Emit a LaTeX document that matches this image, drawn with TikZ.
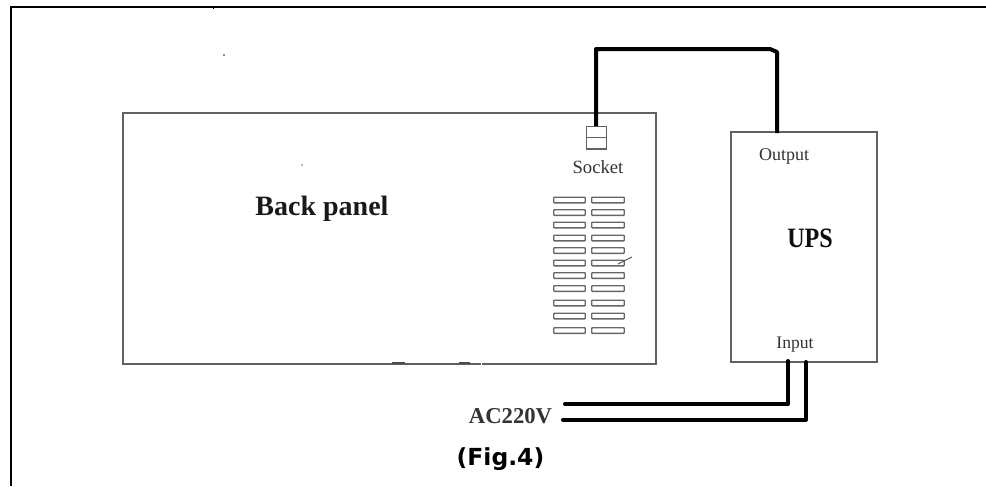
\documentclass[tikz,border=0pt]{standalone}
\usepackage{fontspec}
\setmainfont{Liberation Serif}
\newfontfamily\capfont{DejaVu Sans}
\def\pxu{0.75pt}
\tikzset{
  x=0.75pt,y=-0.75pt,
  box/.style={draw=black!62,line width=1.1pt,rectangle,inner sep=0pt,outer sep=0pt},
  slot/.style={box,line width=1.05pt,draw=black!60,minimum width=23.6pt,minimum height=4.2pt,rounded corners=0.5pt},
  frameline/.style={draw=black,line width=1.4pt},
  cable/.style={draw=black,line width=3pt,line join=round},
  lbl/.style={anchor=base,inner sep=0pt,text=black!80},
  speck/.style={draw=black!70,line width=0.8pt},
}
\begin{document}
\begin{tikzpicture}
\useasboundingbox[fill=white] (0,0) rectangle (986,486);
% frame
\coordinate (fbl) at (11,486);
\coordinate (ftl) at (11,7);
\coordinate (ftr) at (986,7);
\draw[frameline] (fbl) -- (ftl) -- (ftr);
\draw[line width=0.5pt] (213,7) -- (213,8.5);
% boxes
\node[box,minimum width=399.75pt,minimum height=188.25pt] (panel) at (389.5,238.5) {};
\node[box,minimum width=109.5pt,minimum height=172.5pt] (ups) at (804,247) {};
\node[box,line width=1pt,minimum width=15pt,minimum height=17pt] (socket) at (596.5,137.5) {};
\draw[box] (socket.west) -- (socket.east);
% slots
\foreach \n/\yy in {1/200,2/212.5,3/225,4/238,5/250.5,6/263,7/275.5,8/288.5,9/303,10/316,11/330.5}{
  \node[slot] (sa\n) at (569.5,\yy) {};
  \node[slot,minimum width=24.4pt] (sb\n) at (608,\yy) {};
}
% stray marks
\draw[draw=black!65,line width=0.8pt] (618,264) -- (632,257);
\fill[black!60] (224,55) circle (1.2);
\fill[black!55] (302,165) circle (0.9);
\draw[speck,line width=1pt] (392,363) -- (405,363);
\draw[speck,line width=1pt] (459,363) -- (470,363);
\draw[white,line width=0.8pt] (481,364) -- (482,364);
% cables
\coordinate (bend) at (596,49);
\coordinate (bendb) at (770,49);
\coordinate (bendc) at (777,52);
\coordinate (upsout) at (777,133);
\draw[cable] (socket.north -| bend) -- (bend) -- (bendb) -- (bendc) -- (upsout);
\coordinate (in1) at (788,361);
\coordinate (in1b) at (788,404);
\coordinate (end1) at (565,404);
\coordinate (in2) at (806,362);
\coordinate (in2b) at (806,419.5);
\coordinate (end2) at (563,419.5);
\draw[cable,line cap=round] (in1) -- (in1b) -- (end1);
\draw[cable,line cap=round] (in2) -- (in2b) -- (end2);
% labels
\node[lbl,font=\fontsize{21}{24}\selectfont\bfseries,text=black!90] (tback) at (322,215) {Back panel};
\node[lbl,font=\fontsize{14}{16}\selectfont] (tsock) at (598,173) {Socket};
\node[lbl,font=\fontsize{13.5}{16}\selectfont] (tout) at (784,160) {Output};
\node[lbl,font=\fontsize{13.2}{16}\selectfont] (tin) at (795,348) {Input};
\node[lbl,font=\fontsize{21}{24}\selectfont,text=black!95] (tups) at (810,247) {\scalebox{0.86}[1]{\textbf{UPS}}};
\node[lbl,font=\fontsize{17}{20}\selectfont\bfseries] (tac) at (510.5,423) {AC220V};
\node[lbl,font=\capfont\fontsize{17.6}{20}\selectfont\bfseries,text=black] (tfig) at (500.5,465) {(Fig.4)};
\end{tikzpicture}
\end{document}
